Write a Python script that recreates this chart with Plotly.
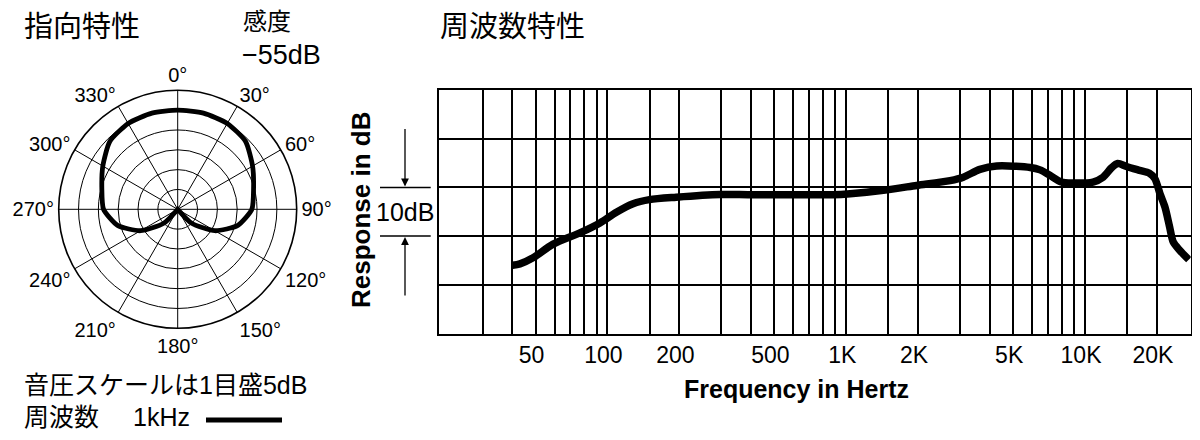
import math
import plotly.graph_objects as go

# ---------------- data ----------------
# Polar pattern (1 kHz), dB relative, ring = 5 dB, centre = -30 dB
polar_angles = [0, 15, 30, 45, 60, 75, 90, 105, 120, 135, 150, 165, 180,
                195, 210, 225, 240, 255, 270, 285, 300, 315, 330, 345, 360]
polar_db = [-5.0, -4.9, -5.0, -5.8, -8.2, -10.2, -11.3, -14.3, -19.2, -25.0, -30.0, -30.0, -30.0,
            -30.0, -30.0, -25.0, -19.2, -14.3, -11.3, -10.2, -8.2, -5.8, -5.0, -4.9, -5.0]
polar_ring_db = [-25, -20, -15, -10, -5]
polar_angle_ticks = [0, 30, 60, 90, 120, 150, 180, 210, 240, 270, 300, 330]
polar_angle_labels = ["0°", "30°", "60°", "90°", "120°", "150°", "180°",
                      "210°", "240°", "270°", "300°", "330°"]

# Frequency response
freq_hz = [40, 43, 49, 59, 77, 93, 109, 128, 150, 194, 296, 395, 640, 883, 1038,
           1430, 1972, 2722, 3093, 3630, 4265, 5890, 6480, 7120, 7950, 8900,
           10800, 11900, 12900, 13700, 14900, 16900, 18600, 19600, 20600, 21600,
           22600, 23400, 24900, 27200]
response_db = [-16.0, -15.7, -14.4, -11.7, -9.3, -7.3, -5.1, -3.35, -2.5, -2.0, -1.45, -1.5, -1.5, -1.5, -1.3,
               -0.6, 0.4, 1.4, 2.1, 3.7, 4.4, 4.1, 3.6, 2.5, 1.1, 0.9,
               1.1, 2.1, 4.0, 4.9, 4.3, 3.5, 2.9, 1.8, -1.3, -4.0,
               -8.1, -11.2, -12.9, -14.85]
grid_freqs = [30, 40, 50, 60, 70, 80, 90, 100, 150, 200, 300, 400, 500, 600, 700, 800, 900,
              1000, 1500, 2000, 3000, 4000, 5000, 6000, 7000, 8000, 9000, 10000, 15000, 20000]
freq_labels = {50: "50", 100: "100", 200: "200", 500: "500", 1000: "1K",
               2000: "2K", 5000: "5K", 10000: "10K", 20000: "20K"}
freq_range = [19.7, 27700]
db_range = [-30, 20]
db_grid = [-20, -10, 0, 10]
bracket_db = [0, -10]
sensitivity = "−55dB"

# ---------------- layout helpers ----------------
# page body has an 8px margin; the figure is sized so the page is exactly 1200x440
OFF = 8
W, H = 1200 - 2 * OFF, 440 - 2 * OFF
LAT = "Liberation Sans, Arial, Noto Sans CJK JP, sans-serif"
JP = "Liberation Sans, Noto Sans CJK JP, sans-serif"


def px(x):
    return (x - OFF) / W


def py(y):
    return 1 - (y - OFF) / H


fig = go.Figure()

fig.add_trace(go.Scatterpolar(
    r=polar_db, theta=polar_angles, mode="lines",
    line=dict(color="black", width=4.8, shape="spline", smoothing=0.6),
    showlegend=False, hoverinfo="skip"))

fig.add_trace(go.Scatter(
    x=freq_hz, y=response_db, mode="lines",
    line=dict(color="black", width=7.5, shape="spline", smoothing=0.8),
    showlegend=False, hoverinfo="skip", xaxis="x", yaxis="y"))

fig.update_layout(
    width=W, height=H, margin=dict(l=0, r=0, t=0, b=0),
    paper_bgcolor="white", plot_bgcolor="white",
    font=dict(family=LAT, color="black"),
    polar=dict(
        domain=dict(x=[px(58.7), px(296.7)], y=[py(328.3), py(90.3)]),
        bgcolor="white",
        angularaxis=dict(rotation=90, direction="clockwise",
                         tickvals=polar_angle_ticks, ticktext=polar_angle_labels,
                         ticks="", showline=True, linecolor="black", linewidth=1.6,
                         gridcolor="black", gridwidth=1.2,
                         tickfont=dict(size=20, family=LAT, color="black")),
        radialaxis=dict(range=[-30, 0], tickvals=polar_ring_db, showticklabels=False,
                        ticks="", showline=False, gridcolor="black", gridwidth=1.2),
    ),
    xaxis=dict(type="log", range=[math.log10(freq_range[0]), math.log10(freq_range[1])],
               domain=[px(439), px(1190.7)],
               tickvals=grid_freqs, ticktext=[freq_labels.get(f, "") for f in grid_freqs],
               showgrid=True, gridcolor="black", gridwidth=1.6,
               showline=True, linecolor="black", linewidth=2, mirror=True,
               ticks="", zeroline=False, ticklabelshift=-4,
               tickfont=dict(size=23, family=LAT, color="black")),
    yaxis=dict(range=db_range, domain=[py(333.5), py(90)],
               tickvals=db_grid, showticklabels=False,
               showgrid=True, gridcolor="black", gridwidth=1.6,
               showline=True, linecolor="black", linewidth=2, mirror=True,
               ticks="", zeroline=False),
)

# 10 dB bracket
for b in bracket_db:
    fig.add_shape(type="line", xref="paper", yref="y", x0=px(380), x1=px(430.7),
                  y0=b, y1=b, line=dict(color="black", width=1.5))
fig.add_annotation(xref="paper", yref="y", x=px(405), y=bracket_db[0], text="",
                   showarrow=True, arrowhead=2, arrowsize=1.2, arrowwidth=1.3,
                   arrowcolor="black", ax=0, ay=-60, standoff=1)
fig.add_annotation(xref="paper", yref="y", x=px(405), y=bracket_db[1], text="",
                   showarrow=True, arrowhead=2, arrowsize=1.2, arrowwidth=1.3,
                   arrowcolor="black", ax=0, ay=61, standoff=1)


def label(x, y, text, size, xanchor="left", bold=False, angle=0, family=JP, yanchor="middle"):
    t = f"<b>{text}</b>" if bold else text
    fig.add_annotation(xref="paper", yref="paper", x=px(x), y=py(y), text=t,
                       showarrow=False, xanchor=xanchor, yanchor=yanchor, align="left",
                       textangle=angle, font=dict(size=size, family=family, color="black"))


label(405, 212, "10dB", 25, xanchor="center", family=LAT)
label(796.5, 389, "Frequency in Hertz", 25, xanchor="center", bold=True, family=LAT)
label(361, 210, "Response in dB", 26, xanchor="center", bold=True, angle=-90, family=LAT)

label(22, 27, "指向特性", 29)
label(438, 27, "周波数特性", 29)
label(241, 21, "感度", 24)
label(240, 55, sensitivity, 27, family=LAT)
label(22, 385, "音圧スケールは1目盛5dB", 25)
label(22, 417, "周波数", 25)
label(131, 417, "1kHz", 25, family=LAT)
fig.add_shape(type="line", xref="paper", yref="paper", x0=px(206), x1=px(282),
              y0=py(420), y1=py(420), line=dict(color="black", width=5))

fig.write_html("out.html")
